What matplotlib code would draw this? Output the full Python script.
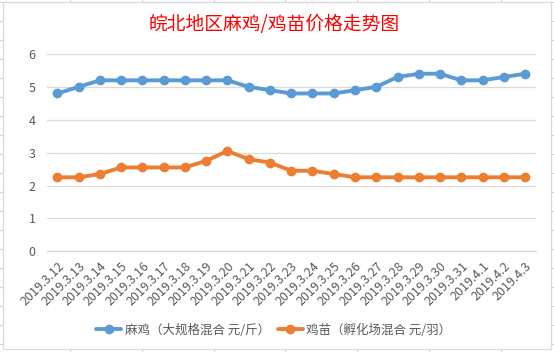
import matplotlib
matplotlib.use("Agg")
import matplotlib.pyplot as plt
from matplotlib import patches

plt.rcParams['font.family'] = ['Noto Sans CJK SC', 'DejaVu Sans']

# data
dates = ['2019.3.12', '2019.3.13', '2019.3.14', '2019.3.15', '2019.3.16',
         '2019.3.17', '2019.3.18', '2019.3.19', '2019.3.20', '2019.3.21',
         '2019.3.22', '2019.3.23', '2019.3.24', '2019.3.25', '2019.3.26',
         '2019.3.27', '2019.3.28', '2019.3.29', '2019.3.30', '2019.3.31',
         '2019.4.1', '2019.4.2', '2019.4.3']
maji = [4.8, 5.0, 5.2, 5.2, 5.2, 5.2, 5.2, 5.2, 5.2, 5.0, 4.9, 4.8,
        4.8, 4.8, 4.9, 5.0, 5.3, 5.4, 5.4, 5.2, 5.2, 5.3, 5.4]
jimiao = [2.25, 2.25, 2.35, 2.55, 2.55, 2.55, 2.55, 2.75, 3.05, 2.8, 2.7, 2.45,
          2.45, 2.35, 2.25, 2.25, 2.25, 2.25, 2.25, 2.25, 2.25, 2.25, 2.25]
label_maji = '麻鸡（大规格混合 元/斤）'
label_jimiao = '鸡苗（孵化场混合 元/羽）'
title = '皖北地区麻鸡/鸡苗价格走势图'

W, H = 554, 352
fig = plt.figure(figsize=(W / 100, H / 100), dpi=100)

# spreadsheet background + chart frame
bg = fig.add_axes([0, 0, 1, 1], zorder=-1)
bg.set_xlim(0, W)
bg.set_ylim(H, 0)
bg.axis('off')
for xc in [70.3, 142, 213.7, 285.4, 357.1, 428.8, 500.5]:
    bg.plot([xc, xc], [0, H], color='#d4d4d4', lw=0.8)
for k in range(20):
    yc = 2.3 + 19 * k
    bg.plot([0, W], [yc, yc], color='#d4d4d4', lw=0.8)
bg.add_patch(patches.Rectangle((2.7, 2.3), 548.3, 346.7, facecolor='white',
                               edgecolor='#d9d9d9', lw=0.9, zorder=5))

fig.text(274.5 / W, 1 - 24.5 / H, title, color='#ff0000', fontsize=13.5,
         ha='center', va='center')

ax = fig.add_axes([46.7 / W, 1 - 251.3 / H, 489 / W, (251.3 - 54) / H])
ax.patch.set_alpha(0)
x = range(len(dates))
ax.plot(x, maji, color='#5b9bd5', lw=2.8, marker='o', ms=6, label=label_maji,
        solid_capstyle='round')
ax.plot(x, jimiao, color='#ed7d31', lw=2.8, marker='o', ms=6, label=label_jimiao,
        solid_capstyle='round')

ax.set_xlim(-0.5, len(dates) - 0.5)
ax.set_ylim(0, 6)
ax.set_yticks(range(7))
ax.grid(axis='y', color='#d9d9d9', lw=0.9)
ax.set_axisbelow(True)
for s in ['left', 'right', 'top']:
    ax.spines[s].set_visible(False)
ax.spines['bottom'].set_color('#d9d9d9')
ax.spines['bottom'].set_linewidth(0.9)
ax.tick_params(length=0, colors='#595959', labelsize=9)
ax.tick_params(axis='y', pad=8)
ax.set_xticks(list(x))
ax.set_xticklabels(dates, rotation=45, ha='right', rotation_mode='anchor')
ax.tick_params(axis='x', pad=6)

leg = fig.legend(loc='center', bbox_to_anchor=(274 / W, 1 - 330 / H), ncol=2,
                 frameon=False, fontsize=9, handlelength=2.0, columnspacing=0.6,
                 handletextpad=0.3)
for t in leg.get_texts():
    t.set_color('#595959')

fig.savefig('out.png', dpi=100)
